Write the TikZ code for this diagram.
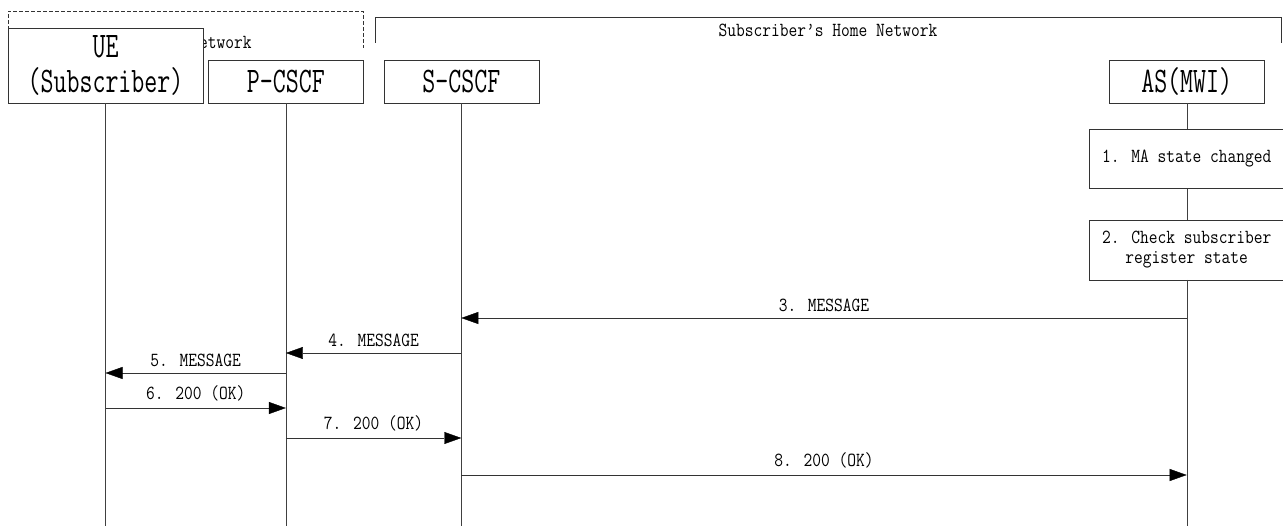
\documentclass[tikz,border=0pt]{standalone}
\usepackage{fontspec}
\newfontfamily\msgfont[FakeStretch=0.85]{Latin Modern Mono}
\newfontfamily\entfont[FakeStretch=0.7]{Latin Modern Mono}
\usetikzlibrary{positioning,arrows.meta}

\begin{document}
\begin{tikzpicture}[
    x=1pt, y=-1pt,
    entity/.style={draw=black!80, fill=white, align=center, inner sep=0pt, minimum width=155pt, minimum height=43pt, font=\entfont\fontsize{36}{35}\selectfont},
    stepbox/.style={draw=black!80, fill=white, align=center, inner sep=0pt, minimum width=195pt, font=\msgfont\fontsize{20}{20}\selectfont},
    frame/.style={draw=black!80, thin},
    life/.style={draw=black!75, thin},
    msg/.style={-{Triangle[length=17pt,width=12pt,color=black]}, draw=black!80, thin},
    lbl/.style={font=\msgfont\fontsize{20}{20}\selectfont, above=3pt, midway},
  ]
    \useasboundingbox (0,0) rectangle (1283,526);

    % network frames
    \draw[frame, dash pattern=on 4pt off 2pt] (8,48) -- (8,11) -- (363,11) -- (363,48);
    \node[font=\msgfont\fontsize{20}{20}\selectfont] (visited) at (186,42) {Visited Network};
    \draw[frame] (375,43) -- (375,17) -- (1281,17) -- (1281,43);
    \node[font=\msgfont\fontsize{20}{20}\selectfont] (home) at (828,30) {Subscriber’s Home Network};

    % entities
    \node[entity, minimum width=195pt, minimum height=75pt] (ue) at (105.5,65.5) {UE\\(Subscriber)};
    \node[entity, right=5pt of ue.south east, anchor=south west] (pcscf) {P-CSCF};
    \node[entity, right=20pt of pcscf] (scscf) {S-CSCF};
    \node[entity, right=570pt of scscf] (as) {AS(MWI)};

    % steps at the AS
    \node[stepbox, minimum height=59pt, below=26pt of as] (st1) {1. MA state changed};
    \node[stepbox, minimum height=60pt, below=31pt of st1] (st2) {2. Check subscriber\\register state};

    % lifelines
    \coordinate (bot) at (0,526);
    \draw[life] (ue) -- (ue |- bot);
    \draw[life] (pcscf) -- (pcscf |- bot);
    \draw[life] (scscf) -- (scscf |- bot);
    \draw[life] (as) -- (st1);
    \draw[life] (st1) -- (st2);
    \draw[life] (st2) -- (st2 |- bot);

    % messages
    \draw[msg] (as.south |- 0,318) -- (scscf.south |- 0,318) node[lbl] {3. MESSAGE};
    \draw[msg] (scscf.south |- 0,353) -- (pcscf.south |- 0,353) node[lbl] {4. MESSAGE};
    \draw[msg] (pcscf.south |- 0,373) -- (ue.south |- 0,373) node[lbl] {5. MESSAGE};
    \draw[msg] (ue.south |- 0,408) -- (pcscf.south |- 0,408) node[lbl] {6. 200 (OK)};
    \draw[msg] (pcscf.south |- 0,438) -- (scscf.south |- 0,438) node[lbl] {7. 200 (OK)};
    \draw[msg] (scscf.south |- 0,475) -- (as.south |- 0,475) node[lbl] {8. 200 (OK)};
\end{tikzpicture}
\end{document}
